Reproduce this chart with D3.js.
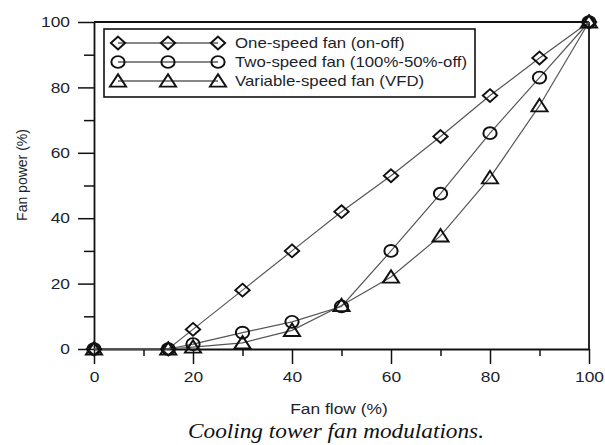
<!DOCTYPE html>
<html>
<head>
<meta charset="utf-8">
<script src="https://cdn.jsdelivr.net/npm/d3@7"></script>
<style>
  body { margin: 0; background: #fff; }
  svg text { font-family: "Liberation Sans", Arial, sans-serif; fill: #1c1f2c; }
</style>
</head>
<body>
<div id="chart"></div>
<script>
// fan flow (%) values along x
const flow = [0, 15, 20, 30, 40, 50, 60, 70, 80, 90, 100];

// fan power (%) per series
const oneSpeed = [0, 0, 6, 18, 30, 42, 53, 65, 77.5, 89, 100];
const twoSpeed = [0, 0, 1.5, 5, 8.3, 13, 30, 47.5, 66, 83, 100];
const vfd      = [0, 0, 0.6, 1.9, 5.7, 13.3, 22, 34.6, 52.4, 74.4, 100];

const seriesNames = ["One-speed fan (on-off)", "Two-speed fan (100%-50%-off)", "Variable-speed fan (VFD)"];
const xTicks = [0, 20, 40, 60, 80, 100];
const yTicks = [0, 20, 40, 60, 80, 100];

const series = [
    {name: seriesNames[0], values: oneSpeed, symbol: d3.symbolDiamond2},
    {name: seriesNames[1], values: twoSpeed, symbol: d3.symbolCircle},
    {name: seriesNames[2], values: vfd, symbol: d3.symbolTriangle}
];

// the original figure's lettering is a bit wide, stretch horizontally
const sx = 1.2;

const W = 605, H = 445;
const margin = {top: 22, right: 16, bottom: 96, left: 94};
const width = W - margin.left - margin.right;
const height = H - margin.top - margin.bottom;

const svg = d3.select("#chart").append("svg")
    .attr("width", W)
    .attr("height", H);

const g = svg.append("g")
    .attr("transform", "translate(" + margin.left + "," + margin.top + ")");

const x = d3.scaleLinear().domain([0, 100]).range([0, width]);
const y = d3.scaleLinear().domain([0, 100]).range([height, 0]);

// minor ticks first
g.append("g")
    .attr("transform", "translate(0," + height + ")")
    .call(d3.axisBottom(x).tickValues(d3.range(10, 100, 20)).tickSize(7).tickFormat(""))
    .call(a => a.select(".domain").remove())
    .selectAll("line").attr("stroke", "#111").attr("stroke-width", 1.5);

g.append("g")
    .call(d3.axisLeft(y).tickValues(d3.range(10, 100, 20)).tickSize(10).tickFormat(""))
    .call(a => a.select(".domain").remove())
    .selectAll("line").attr("stroke", "#111").attr("stroke-width", 1.5);

// major axes
const xAxis = g.append("g")
    .attr("transform", "translate(0," + height + ")")
    .call(d3.axisBottom(x).tickValues(xTicks).tickSize(15).tickSizeOuter(0).tickPadding(8));

const yAxis = g.append("g")
    .call(d3.axisLeft(y).tickValues(yTicks).tickSize(16).tickSizeOuter(0).tickPadding(8));

[xAxis, yAxis].forEach(a => {
    a.selectAll("line").attr("stroke", "#111").attr("stroke-width", 1.5);
    a.select(".domain").attr("stroke", "#111").attr("stroke-width", 1.8);
    a.selectAll("text").attr("font-size", "14.5px").attr("fill", "#1c1f2c");
});
xAxis.selectAll("text").attr("transform", "scale(" + sx + ",1)");
yAxis.selectAll("text")
    .attr("x", -24 / sx)
    .attr("transform", "scale(" + sx + ",1)");

// top and right frame
g.append("line").attr("x1", 0).attr("x2", width).attr("y1", 0).attr("y2", 0)
    .attr("stroke", "#111").attr("stroke-width", 1.8);
g.append("line").attr("x1", width).attr("x2", width).attr("y1", 0).attr("y2", height)
    .attr("stroke", "#111").attr("stroke-width", 1.8);

// lines
const line = d3.line()
    .x((d, i) => x(flow[i]))
    .y(d => y(d));

series.forEach(s => {
    g.append("path")
        .datum(s.values)
        .attr("fill", "none")
        .attr("stroke", "#555")
        .attr("stroke-width", 1.2)
        .attr("d", line);
});

// markers
const symbolSize = {0: 105, 1: 110, 2: 90};
series.forEach((s, si) => {
    const sym = d3.symbol().type(s.symbol).size(symbolSize[si]);
    g.selectAll(".m" + si)
        .data(s.values)
        .enter()
        .append("path")
        .attr("class", "m" + si)
        .attr("d", sym)
        .attr("transform", (d, i) => "translate(" + x(flow[i]) + "," + (y(d) + (si == 2 ? 1.5 : 0)) + ") scale(1.12,1)")
        .attr("fill", "none")
        .attr("stroke", "#111")
        .attr("stroke-width", 1.8);
});

// legend
const legend = svg.append("g").attr("transform", "translate(104,29)");
legend.append("rect")
    .attr("width", 371).attr("height", 68)
    .attr("fill", "white")
    .attr("stroke", "#111").attr("stroke-width", 1.6);

series.forEach((s, si) => {
    const row = legend.append("g").attr("transform", "translate(0," + (14 + si * 19) + ")");
    row.append("line").attr("x1", 14).attr("x2", 114).attr("y1", 0).attr("y2", 0)
        .attr("stroke", "#111").attr("stroke-width", 1.2);
    const sym = d3.symbol().type(s.symbol).size(symbolSize[si]);
    [14, 64, 114].forEach(px => {
        row.append("path")
            .attr("d", sym)
            .attr("transform", "translate(" + px + "," + (si == 2 ? 1.5 : 0) + ") scale(1.12,1)")
            .attr("fill", "none")
            .attr("stroke", "#111")
            .attr("stroke-width", 1.8);
    });
    row.append("text")
        .attr("transform", "translate(131,5) scale(" + sx + ",1)")
        .attr("font-size", "14px")
        .text(s.name);
});

// axis labels
svg.append("text")
    .attr("transform", "translate(339,414) scale(" + sx + ",1)")
    .attr("text-anchor", "middle")
    .attr("font-size", "14.5px")
    .text("Fan flow (%)");

svg.append("text")
    .attr("transform", "translate(27,175) rotate(-90)")
    .attr("text-anchor", "middle")
    .attr("font-size", "14px")
    .text("Fan power (%)");

// caption
svg.append("text")
    .attr("x", 336).attr("y", 438)
    .attr("text-anchor", "middle")
    .attr("textLength", 296)
    .attr("lengthAdjust", "spacingAndGlyphs")
    .style("font-family", "'Liberation Serif', 'Times New Roman', serif")
    .style("font-style", "italic")
    .attr("font-size", "20px")
    .style("fill", "#111")
    .text("Cooling tower fan modulations.");
</script>
</body>
</html>
